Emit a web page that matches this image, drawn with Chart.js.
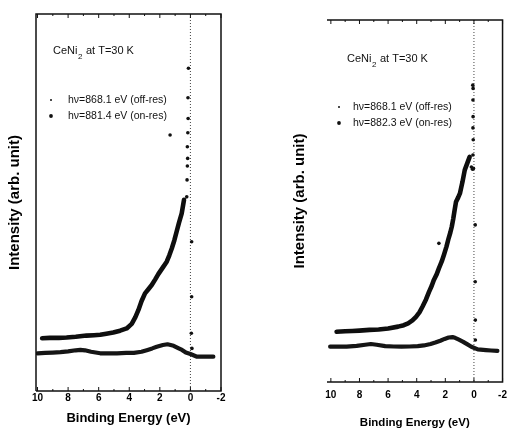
<!DOCTYPE html>
<html>
<head>
<meta charset="utf-8">
<script src="https://cdn.jsdelivr.net/npm/chart.js@4.4.1/dist/chart.umd.min.js"></script>
<style>
  html, body { margin: 0; padding: 0; background: #fff; }
  #wrap { position: relative; width: 514px; height: 433px; }
  .panel { position: absolute; top: 0; width: 257px; height: 433px; }
</style>
</head>
<body>
<div id="wrap">
  <div class="panel" style="left:0"><canvas id="left" width="257" height="433"></canvas></div>
  <div class="panel" style="left:257px"><canvas id="right" width="257" height="433"></canvas></div>
</div>
<script>
// eje X compartido (energía de enlace, invertido)
const X_TICKS = [10, 8, 6, 4, 2, 0, -2];
const FERMI_LEVEL = 0;
const SAMPLE = ['CeNi', '2', ' at T=30 K'];
const X_TITLE = 'Binding Energy (eV)';
const Y_TITLE = 'Intensity (arb. unit)';

// panel izquierdo
const L_LABELS = ['hν=868.1 eV (off-res)', 'hν=881.4 eV (on-res)'];
const L_OFF_BE = [10.0, 9.5, 9.0, 8.5, 8.0, 7.5, 7.2, 6.9, 6.5, 5.9, 5.4, 4.8, 4.2, 3.7, 3.2, 2.8, 2.5, 2.2, 1.8, 1.5, 1.1, 0.8, 0.55, 0.3, 0.0, -0.43, -0.9, -1.5];
const L_OFF_I  = [10.0, 10.1, 10.2, 10.3, 10.5, 10.8, 10.9, 10.8, 10.4, 10.0, 10.0, 10.0, 10.1, 10.1, 10.4, 10.9, 11.3, 11.75, 12.2, 12.4, 12.0, 11.4, 10.9, 10.2, 9.8, 9.1, 9.1, 9.1];
const L_ON_BE = [9.7, 9.2, 8.6, 8.1, 7.5, 6.8, 6.3, 5.9, 5.5, 5.05, 4.6, 4.17, 3.84, 3.6, 3.4, 3.2, 2.97, 2.75, 2.53, 2.3, 2.1, 1.8, 1.55, 1.38, 1.22, 1.05, 0.9, 0.75, 0.57, 0.42];
const L_ON_I  = [14.0, 14.1, 14.1, 14.2, 14.4, 14.7, 14.8, 14.9, 15.2, 15.5, 16.0, 16.6, 17.8, 19.6, 21.5, 23.8, 25.9, 27.0, 28.1, 29.6, 31.0, 32.8, 34.3, 36.0, 37.8, 40.0, 42.3, 44.6, 47.1, 50.7];
// puntos sueltos del borde de Fermi (on-res)
const L_EDGE_BE = [0.24, 0.22, 0.2, 0.18, 0.2, 0.17, 0.15, 0.16, 0.13, -0.08, -0.08, -0.06, -0.1, 1.33];
const L_EDGE_I  = [51.5, 56.0, 59.7, 61.7, 64.8, 68.5, 72.3, 77.8, 85.6, 39.6, 25.0, 15.3, 11.3, 67.9];

// panel derecho
const R_LABELS = ['hν=868.1 eV (off-res)', 'hν=882.3 eV (on-res)'];
const R_OFF_BE = [10.05, 9.5, 8.9, 8.2, 7.6, 7.2, 6.8, 6.2, 5.6, 5.07, 4.5, 3.93, 3.5, 3.03, 2.7, 2.35, 2.05, 1.77, 1.5, 1.32, 1.05, 0.75, 0.45, 0.18, -0.27, -0.84, -1.2, -1.64];
const R_OFF_I  = [9.75, 9.8, 9.75, 10.0, 10.3, 10.5, 10.3, 9.9, 9.8, 9.75, 9.8, 9.9, 10.1, 10.5, 10.9, 11.4, 11.9, 12.3, 12.4, 12.2, 11.7, 11.1, 10.4, 9.75, 9.0, 8.8, 8.7, 8.6];
const R_ON_BE = [9.6, 9.0, 8.5, 8.0, 7.3, 6.66, 6.0, 5.3, 4.9, 4.6, 4.3, 4.05, 3.8, 3.6, 3.35, 3.14, 2.95, 2.8, 2.6, 2.45, 2.25, 2.1, 1.92, 1.77, 1.65, 1.55, 1.45, 1.35, 1.25, 1.1, 0.98, 0.8, 0.64, 0.45, 0.3];
const R_ON_I  = [13.9, 14.0, 14.1, 14.2, 14.4, 14.5, 14.8, 15.3, 15.7, 16.2, 17.0, 18.0, 19.3, 20.8, 22.8, 24.9, 26.6, 28.2, 29.8, 31.4, 33.3, 35.1, 37.4, 39.7, 41.3, 42.9, 45.0, 47.5, 49.8, 51.0, 52.1, 55.3, 58.6, 60.6, 62.2];
const R_EDGE_BE = [0.18, 0.1, 0.03, 0.07, 0.05, 0.07, 0.06, 0.07, 0.06, 0.08, -0.09, -0.09, -0.1, -0.1, 2.45];
const R_EDGE_I  = [59.4, 58.8, 59.0, 62.7, 66.9, 70.2, 73.3, 77.9, 81.1, 82.0, 43.4, 27.7, 17.1, 11.6, 38.3];

const FONT = "'Liberation Sans', Arial, Helvetica, sans-serif";

function pts(be, val) {
  return be.map((x, i) => ({ x: x, y: val[i] }));
}

// marco, ticks interiores, línea de Fermi y leyenda dentro del gráfico
const panelPlugin = {
  id: 'panel',
  beforeDatasetsDraw(chart, args, o) {
    const { ctx, chartArea: a, scales: { x } } = chart;
    const fx = x.getPixelForValue(FERMI_LEVEL);
    ctx.save();
    ctx.strokeStyle = '#444';
    ctx.lineWidth = 1;
    ctx.setLineDash([1, 2]);
    ctx.beginPath();
    ctx.moveTo(fx, a.top);
    ctx.lineTo(fx, a.bottom);
    ctx.stroke();
    ctx.restore();
  },
  afterDraw(chart, args, o) {
    const { ctx, chartArea: a, scales: { x } } = chart;
    ctx.save();
    ctx.strokeStyle = '#111';
    ctx.lineWidth = 1.5;
    ctx.beginPath();
    if (o.leftBorder) {
      ctx.moveTo(a.left, a.bottom);
      ctx.lineTo(a.left, a.top);
    } else {
      ctx.moveTo(a.left, a.top);
    }
    ctx.lineTo(a.right, a.top);
    ctx.lineTo(a.right, a.bottom);
    ctx.lineTo(a.left, a.bottom);
    ctx.stroke();

    // ticks hacia dentro, cada 1 eV
    ctx.lineWidth = 1;
    ctx.beginPath();
    for (let v = Math.ceil(x.min); v <= Math.floor(x.max); v++) {
      const px = x.getPixelForValue(v);
      const len = v % 2 === 0 ? 4 : 2;
      ctx.moveTo(px, a.bottom);
      ctx.lineTo(px, a.bottom - len);
      ctx.moveTo(px, a.top);
      ctx.lineTo(px, a.top + len);
    }
    ctx.stroke();

    // título de la muestra con subíndice
    ctx.fillStyle = '#111';
    ctx.textAlign = 'left';
    ctx.textBaseline = 'middle';
    let tx = a.left + o.titleDx;
    const ty = a.top + o.titleDy;
    ctx.font = '11px ' + FONT;
    ctx.fillText(SAMPLE[0], tx, ty);
    tx += ctx.measureText(SAMPLE[0]).width;
    ctx.font = '8px ' + FONT;
    ctx.fillText(SAMPLE[1], tx + 0.5, ty + 6);
    tx += ctx.measureText(SAMPLE[1]).width + 1;
    ctx.font = '11px ' + FONT;
    ctx.fillText(SAMPLE[2], tx, ty);

    // leyenda
    ctx.font = '10.5px ' + FONT;
    o.labels.forEach((lab, i) => {
      const ly = a.top + o.legendDy + i * 16;
      ctx.beginPath();
      ctx.arc(a.left + o.markerDx, ly, i === 0 ? 1 : 1.9, 0, Math.PI * 2);
      ctx.fill();
      ctx.fillText(lab, a.left + o.textDx, ly);
    });
    ctx.restore();
  }
};

function makePanel(id, d) {
  return new Chart(document.getElementById(id), {
    type: 'scatter',
    data: {
      datasets: [
        {
          label: d.labels[0], data: pts(d.offBE, d.offI), showLine: true,
          borderColor: '#151515', borderWidth: 4.2, pointRadius: 0,
          borderJoinStyle: 'round', borderCapStyle: 'round'
        },
        {
          label: d.labels[1], data: pts(d.onBE, d.onI), showLine: true,
          borderColor: '#0e0e0e', borderWidth: 4.6, pointRadius: 0,
          borderJoinStyle: 'round', borderCapStyle: 'round'
        },
        {
          label: d.labels[1], data: pts(d.edgeBE, d.edgeI), showLine: false,
          pointRadius: 1.8, pointBackgroundColor: '#111', pointBorderWidth: 0
        }
      ]
    },
    options: {
      responsive: false,
      animation: false,
      events: [],
      layout: { padding: d.pad },
      plugins: {
        legend: { display: false },
        tooltip: { enabled: false },
        panel: d.panel
      },
      scales: {
        x: {
          type: 'linear', reverse: true, min: -2, max: d.xMax,
          afterBuildTicks: s => { s.ticks = X_TICKS.map(v => ({ value: v })); },
          grid: { display: false, drawTicks: false },
          border: { display: false },
          ticks: {
            color: '#000', padding: d.tickPad, maxRotation: 0, autoSkip: false,
            font: { family: FONT, size: 10, weight: 'bold' }
          },
          title: {
            display: true, text: X_TITLE, color: '#000',
            font: { family: FONT, size: d.xTitleSize, weight: 'bold' },
            padding: { top: 0, bottom: d.xTitlePad }
          },
          afterFit: s => { s.height = d.xHeight; }
        },
        y: {
          min: 0, max: 100,
          ticks: { display: false },
          grid: { display: false, drawTicks: false },
          border: { display: false },
          title: {
            display: true, text: Y_TITLE, color: '#000',
            font: { family: FONT, size: 15, weight: 'bold' },
            padding: { top: d.yTitlePad, bottom: 0 }
          },
          afterFit: s => { s.width = d.yWidth; }
        }
      }
    },
    plugins: [panelPlugin]
  });
}

makePanel('left', {
  labels: L_LABELS,
  offBE: L_OFF_BE, offI: L_OFF_I,
  onBE: L_ON_BE, onI: L_ON_I,
  edgeBE: L_EDGE_BE, edgeI: L_EDGE_I,
  xMax: 10.1,
  pad: { top: 14, right: 36, bottom: 0, left: 0 },
  yWidth: 36, yTitlePad: 6,
  xHeight: 42, tickPad: 1, xTitleSize: 13, xTitlePad: 7,
  panel: { leftBorder: true, titleDx: 17, titleDy: 37, markerDx: 15, textDx: 32, legendDy: 86, labels: L_LABELS }
});

makePanel('right', {
  labels: R_LABELS,
  offBE: R_OFF_BE, offI: R_OFF_I,
  onBE: R_ON_BE, onI: R_ON_I,
  edgeBE: R_EDGE_BE, edgeI: R_EDGE_I,
  xMax: 10.27,
  pad: { top: 20, right: 7, bottom: 0, left: 0 },
  yWidth: 70, yTitlePad: 34,
  xHeight: 51, tickPad: 7, xTitleSize: 11.5, xTitlePad: 3,
  panel: { leftBorder: false, titleDx: 20, titleDy: 39, markerDx: 12, textDx: 26, legendDy: 87, labels: R_LABELS }
});
</script>
</body>
</html>
